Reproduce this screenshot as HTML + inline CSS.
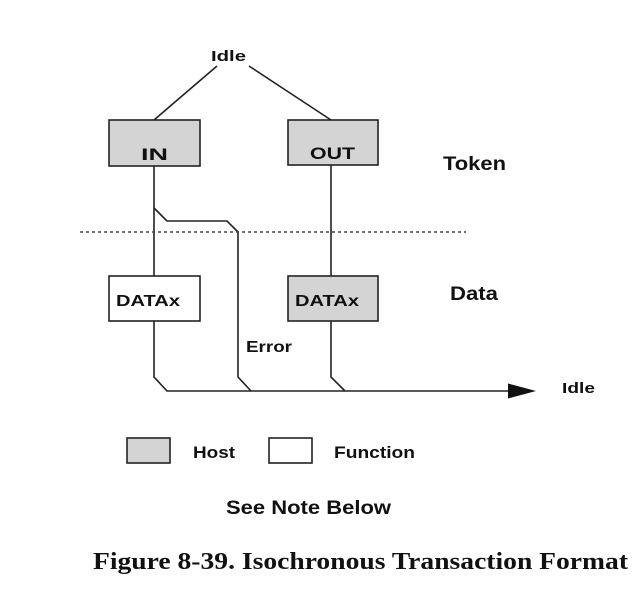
<!DOCTYPE html>
<html><head><style>
body{margin:0;background:#fff;}
svg{display:block;}
.s{font-family:"Liberation Sans",Arial,sans-serif;font-weight:bold;fill:#111;}
</style></head><body>
<svg width="643" height="614" viewBox="0 0 643 614" xmlns="http://www.w3.org/2000/svg">
<g stroke="#222" stroke-width="1.6" fill="none">
<line x1="217" y1="66" x2="154" y2="120"/>
<line x1="249" y1="66" x2="331" y2="120"/>
<rect x="109" y="120" width="91" height="46" fill="#d4d4d4"/>
<rect x="288" y="120" width="90" height="45" fill="#d4d4d4"/>
<rect x="109" y="276" width="91" height="45" fill="#fff"/>
<rect x="288" y="276" width="90" height="45" fill="#d4d4d4"/>
<polyline points="154,166 154,276"/>
<polyline points="154,208 167,221 227,221 238,232 238,377 251,391"/>
<polyline points="154,321 154,377 167,391 510,391"/>
<polyline points="331,165 331,276"/>
<polyline points="331,321 331,377 345,391"/>
<rect x="127" y="438" width="43" height="25" fill="#d4d4d4"/>
<rect x="269" y="438" width="43" height="25" fill="#fff"/>
</g>
<line x1="80" y1="232" x2="466" y2="232" stroke="#444" stroke-width="1.4" stroke-dasharray="3,3"/>
<polygon points="508,383.5 536,391 508,398.5" fill="#111"/>
<text class="s" x="211" y="61" font-size="15" textLength="35" lengthAdjust="spacingAndGlyphs">Idle</text>
<text class="s" x="141" y="160" font-size="17" textLength="27" lengthAdjust="spacingAndGlyphs">IN</text>
<text class="s" x="310" y="159" font-size="17" textLength="45" lengthAdjust="spacingAndGlyphs">OUT</text>
<text class="s" x="116" y="306" font-size="16" textLength="64" lengthAdjust="spacingAndGlyphs">DATAx</text>
<text class="s" x="295" y="306" font-size="16" textLength="64" lengthAdjust="spacingAndGlyphs">DATAx</text>
<text class="s" x="246" y="352" font-size="16" textLength="46" lengthAdjust="spacingAndGlyphs">Error</text>
<text class="s" x="443" y="170" font-size="19" textLength="63" lengthAdjust="spacingAndGlyphs">Token</text>
<text class="s" x="450" y="300" font-size="19" textLength="48" lengthAdjust="spacingAndGlyphs">Data</text>
<text class="s" x="562" y="393" font-size="15" textLength="33" lengthAdjust="spacingAndGlyphs">Idle</text>
<text class="s" x="193" y="458" font-size="17" textLength="42" lengthAdjust="spacingAndGlyphs">Host</text>
<text class="s" x="334" y="458" font-size="17" textLength="81" lengthAdjust="spacingAndGlyphs">Function</text>
<text class="s" x="226" y="514" font-size="19" textLength="165" lengthAdjust="spacingAndGlyphs">See Note Below</text>
<text x="93" y="569" font-size="24" font-weight="bold" font-family="'Liberation Serif',serif" fill="#111" textLength="535" lengthAdjust="spacingAndGlyphs">Figure 8-39.  Isochronous Transaction Format</text>
</svg>
</body></html>
